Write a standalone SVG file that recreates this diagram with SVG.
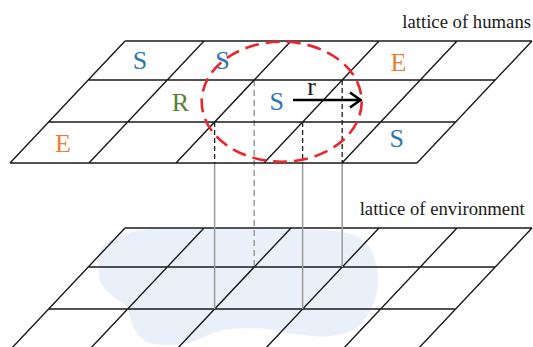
<svg xmlns="http://www.w3.org/2000/svg" width="533" height="347" viewBox="0 0 533 347">
<style>
.grid{fill:none;stroke:#1a1a1a;stroke-width:1.4}
text{font-family:"Liberation Serif",serif}
.lbl{font-size:18.7px;fill:#1a1a1a}
.st{font-size:26px;text-anchor:middle}
.s{fill:#2E75B6}.e{fill:#ED7D31}.r{fill:#548235}
.vg{stroke:#9a9a9a;stroke-width:1.5;fill:none}
.vgd{stroke:#9a9a9a;stroke-width:1.5;fill:none;stroke-dasharray:6 4}
.vkd{stroke:#1a1a1a;stroke-width:1.3;fill:none;stroke-dasharray:5 3}
</style>
<defs>
<g id="lattice">
<path class="grid" d="M125 41H532M88.2 80H495.2M48.6 122H455.6M10 163H417M10 163L125 41M89 163L204 41M176 163L291 41M264 163L379 41M342 163L457 41M417 163L532 41"/>
</g>
</defs>
<g id="environment">
<path fill="#E9F0F9" d="M126.7 233.3C135 231 142 229.5 150 229.3L190 228.3L323.3 230C335 231 345 232 353.3 235C360 238 364 240 366.7 243.3C371 249 373 254 375 260C377 267 378.3 273 378.3 280C378.3 287 377 294 375 300C373 306 370 311 366.7 316.7C362 322 358 327 353.3 330C343 334 333 336.7 323.3 336.7C312 336.7 300 335 290 333.3C278 331 268 328.3 256.7 328.3C245 328.3 233 328.5 223.3 330C213 332 205 337 196.7 340C188 343 180 345 173.3 345C165 345 156 345 150 343.3C143 340 139 337 136.7 333.3C133 327 131 322 130 316.7C129 312 128 309 126.7 306.7C122 302 118 300 113.3 296.7C109 293 105 290 103.3 286.7C100 281 98.3 276 98.3 270L98.3 256.7C98.3 251 102 247 106.7 243.3C110 240 113 238 116.7 236.7C120 235 123 234 126.7 233.3Z"/>
<use href="#lattice" transform="translate(0 187)"/>
<text class="lbl" x="524.7" y="215" text-anchor="end" font-family="Liberation Serif, serif">lattice of environment</text>
</g>
<g id="connectors">
<path class="vg" d="M214.6 163V309M302.6 163V309M342.2 163V267"/>
<path class="vgd" d="M254.2 80V267"/>
<path class="vkd" d="M214.6 122V163M302.6 122V163M342.2 80V163"/>
</g>
<g id="humans">
<use href="#lattice"/>
<text class="lbl" x="531" y="28" text-anchor="end" font-family="Liberation Serif, serif">lattice of humans</text>
</g>
<g id="cells" font-family="Liberation Serif, serif">
<text class="st s" x="140" y="68.5">S</text>
<text class="st s" x="222.5" y="68.5">S</text>
<text class="st e" x="398.5" y="71">E</text>
<text class="st r" x="180.5" y="111">R</text>
<text class="st s" x="276.7" y="110">S</text>
<text class="st e" x="63" y="152">E</text>
<text class="st s" x="396.7" y="146.5">S</text>
</g>
<g id="neighbourhood">
<ellipse cx="281.7" cy="101.7" rx="80" ry="60" fill="none" stroke="#E8262B" stroke-width="2.6" stroke-dasharray="14 7"/>
<line x1="293" y1="100" x2="359" y2="100" stroke="#000" stroke-width="2.6"/>
<polyline points="350,92.5 360.5,100 350,107.5" fill="none" stroke="#000" stroke-width="2.6"/>
<text class="st" x="311.7" y="95" fill="#1a1a1a" font-family="Liberation Serif, serif">r</text>
</g>
</svg>
